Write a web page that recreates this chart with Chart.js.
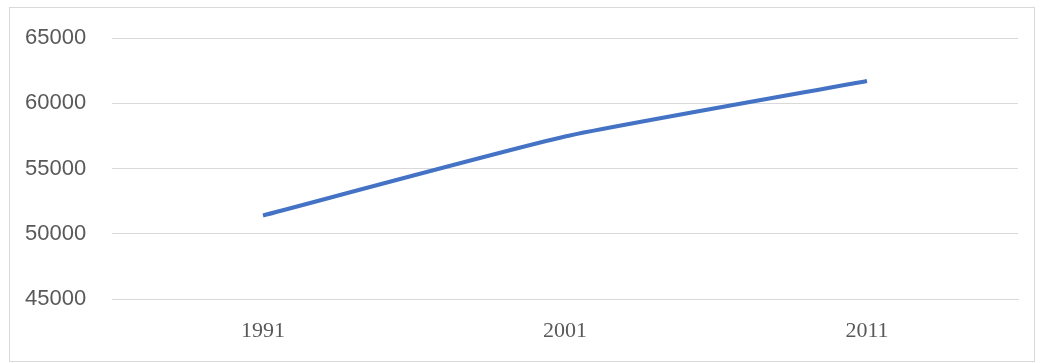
<!DOCTYPE html>
<html>
<head>
<meta charset="utf-8">
<script src="https://cdn.jsdelivr.net/npm/chart.js@4/dist/chart.umd.min.js"></script>
<style>
  html, body { margin: 0; padding: 0; background: #ffffff; }
  #frame {
    position: absolute;
    left: 9px; top: 7px;
    width: 1024px; height: 353px;
    border: 1px solid #d9d9d9;
    background: #ffffff;
  }
  #lineChart { display: block; }
</style>
</head>
<body>
<div id="frame"><canvas id="lineChart" width="1024" height="353"></canvas></div>
<script>
// Census years and values
const years = ['1991', '2001', '2011'];
const population = [51400, 57450, 61700];
const yTicks = [45000, 50000, 55000, 60000, 65000];

const GRID = '#d9d9d9';
const TEXT = '#595959';

const ctx = document.getElementById('lineChart').getContext('2d');

new Chart(ctx, {
    type: 'line',
    data: {
        labels: years,
        datasets: [{
            data: population,
            borderColor: '#4472c4',
            borderWidth: 4,
            pointRadius: 0,
            tension: 0.15,
            fill: false
        }]
    },
    options: {
        responsive: false,
        animation: false,
        layout: {
            padding: { top: 30, right: 16, bottom: 0, left: 15 }
        },
        scales: {
            x: {
                offset: true,
                grid: { display: false, drawTicks: false },
                border: { display: true, color: GRID, width: 1 },
                ticks: {
                    color: TEXT,
                    padding: 19,
                    font: { size: 22, family: '"Liberation Serif", "DejaVu Serif", serif' }
                },
                afterFit: (scale) => { scale.height = 62; }
            },
            y: {
                min: yTicks[0],
                max: yTicks[yTicks.length - 1],
                afterBuildTicks: (scale) => {
                    scale.ticks = yTicks.map(v => ({ value: v }));
                },
                grid: { color: GRID, lineWidth: 1, drawTicks: false },
                border: { display: false },
                ticks: {
                    color: TEXT,
                    padding: 0,
                    crossAlign: 'far',
                    callback: (v) => String(v),
                    font: { size: 22, family: '"Liberation Sans", Arial, sans-serif' }
                },
                afterFit: (scale) => { scale.width = 87; }
            }
        },
        plugins: {
            legend: { display: false },
            tooltip: { enabled: false }
        }
    }
});
</script>
</body>
</html>
